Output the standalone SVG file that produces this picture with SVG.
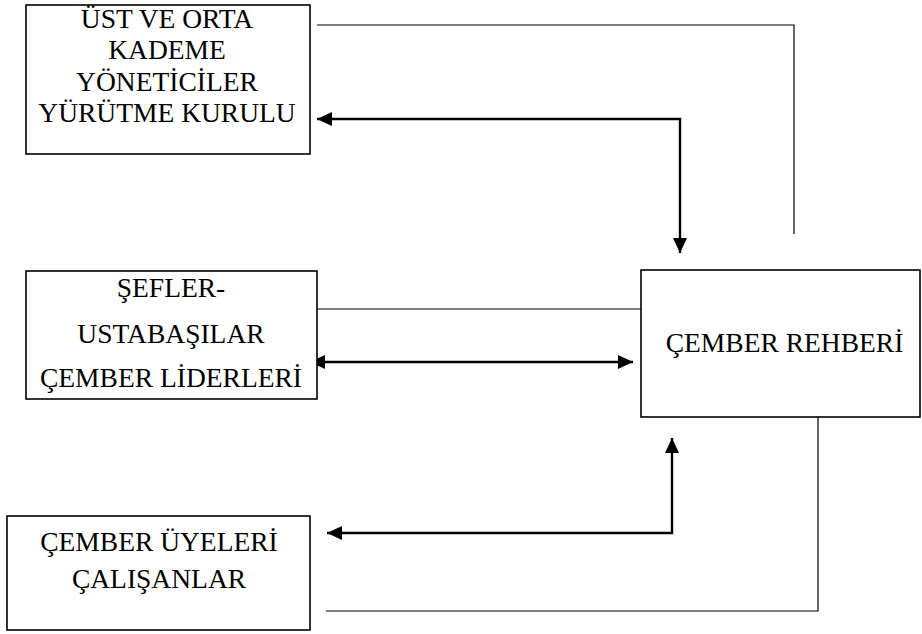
<svg xmlns="http://www.w3.org/2000/svg" width="922" height="634" viewBox="0 0 922 634">
<style>
.box{fill:#fff;stroke:#000;stroke-width:1.6}
.t{font-family:"Liberation Serif","Times New Roman",serif;font-size:27.5px;fill:#000;text-anchor:middle}
.thin{fill:none;stroke:#000;stroke-width:1.2}
.thick{fill:none;stroke:#000;stroke-width:2.4}
</style>
<defs>
<marker id="ah" markerUnits="userSpaceOnUse" markerWidth="16" markerHeight="14" refX="15" refY="7" orient="auto-start-reverse">
<path d="M0,0 L15,7 L0,14 z" fill="#000"/>
</marker>
</defs>
<rect width="922" height="634" fill="#fff"/>
<g id="connectors">
<path class="thin" d="M317 25 H794 V234"/>
<path class="thin" d="M317 309 H641"/>
<path class="thin" d="M818 417 V611 H326"/>
<path class="thick" d="M317 119 H680 V253" marker-start="url(#ah)" marker-end="url(#ah)"/>
<path class="thick" d="M310 362 H633" marker-start="url(#ah)" marker-end="url(#ah)"/>
<path class="thick" d="M327 533 H672 V438" marker-start="url(#ah)" marker-end="url(#ah)"/>
</g>
<g id="node-ust">
<rect class="box" x="26" y="5" width="284" height="149"/>
<text class="t" x="167" y="28">ÜST VE ORTA</text>
<text class="t" x="167" y="59">KADEME</text>
<text class="t" x="167" y="91">YÖNETİCİLER</text>
<text class="t" x="167" y="122">YÜRÜTME KURULU</text>
</g>
<g id="node-sefler">
<rect class="box" x="26" y="271" width="291" height="128"/>
<text class="t" x="171" y="297">ŞEFLER-</text>
<text class="t" x="171" y="343">USTABAŞILAR</text>
<text class="t" x="171" y="387">ÇEMBER LİDERLERİ</text>
</g>
<g id="node-rehber">
<rect class="box" x="641" y="270" width="279" height="147"/>
<text class="t" x="784.5" y="352">ÇEMBER REHBERİ</text>
</g>
<g id="node-uyeler">
<rect class="box" x="7" y="516" width="303" height="114"/>
<text class="t" x="159" y="551">ÇEMBER ÜYELERİ</text>
<text class="t" x="159" y="588">ÇALIŞANLAR</text>
</g>
</svg>
